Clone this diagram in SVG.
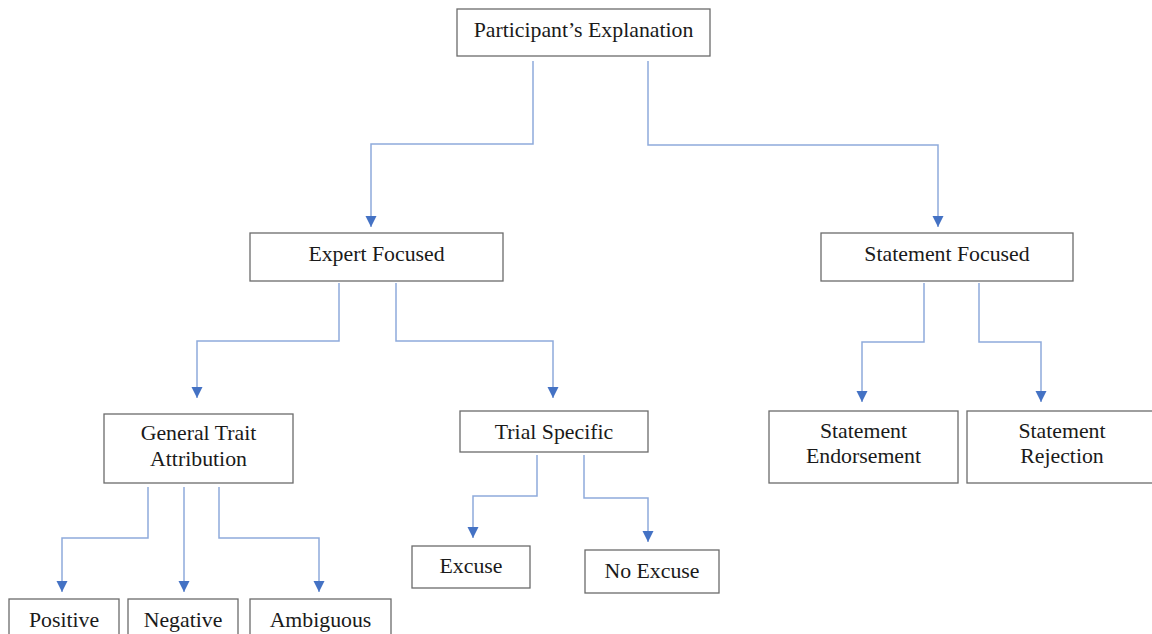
<svg xmlns="http://www.w3.org/2000/svg" width="1152" height="634" viewBox="0 0 1152 634">
<style>
.box{fill:#fff;stroke:#6b6b6b;stroke-width:1.3}
.t{font-family:"Liberation Serif","Times New Roman",serif;font-size:21.8px;fill:#1a1a1a;text-anchor:middle}
.c{fill:none;stroke:#8eaadb;stroke-width:1.5}
</style>
<defs>
<marker id="ah" markerUnits="userSpaceOnUse" markerWidth="12" markerHeight="12" viewBox="0 0 12 12" refX="11" refY="6" orient="auto">
<path d="M0,0.5 L11,6 L0,11.5 Z" fill="#4472c4"/>
</marker>
</defs>
<rect width="1152" height="634" fill="#fff"/>
<g id="connectors">
<path class="c" d="M533,61 V144 H371 V227" marker-end="url(#ah)"/>
<path class="c" d="M648,61 V145 H938 V227" marker-end="url(#ah)"/>
<path class="c" d="M339,283 V341 H197 V398" marker-end="url(#ah)"/>
<path class="c" d="M396,283 V341 H553 V398" marker-end="url(#ah)"/>
<path class="c" d="M924,283 V342 H862 V402" marker-end="url(#ah)"/>
<path class="c" d="M979,283 V342 H1041 V402" marker-end="url(#ah)"/>
<path class="c" d="M148,487 V538 H62 V592" marker-end="url(#ah)"/>
<path class="c" d="M184,487 V592" marker-end="url(#ah)"/>
<path class="c" d="M219,487 V538 H319 V592" marker-end="url(#ah)"/>
<path class="c" d="M537,455 V496 H473 V538" marker-end="url(#ah)"/>
<path class="c" d="M584,455 V498 H648 V542" marker-end="url(#ah)"/>
</g>
<g id="participant">
<rect class="box" x="457" y="9" width="253" height="47"/>
<text class="t" x="583.5" y="37">Participant’s Explanation</text>
</g>
<g id="expert">
<rect class="box" x="250" y="233" width="253" height="48"/>
<text class="t" x="376.5" y="261">Expert Focused</text>
</g>
<g id="statement">
<rect class="box" x="821" y="233" width="252" height="48"/>
<text class="t" x="947" y="261">Statement Focused</text>
</g>
<g id="general">
<rect class="box" x="104" y="414" width="189" height="69"/>
<text class="t" x="198.5" y="440">General Trait</text>
<text class="t" x="198.5" y="466">Attribution</text>
</g>
<g id="trial">
<rect class="box" x="460" y="411" width="188" height="41"/>
<text class="t" x="554" y="439">Trial Specific</text>
</g>
<g id="endorsement">
<rect class="box" x="769" y="411" width="189" height="72"/>
<text class="t" x="863.5" y="438">Statement</text>
<text class="t" x="863.5" y="463">Endorsement</text>
</g>
<g id="rejection">
<rect class="box" x="967" y="411" width="190" height="72"/>
<text class="t" x="1062" y="438">Statement</text>
<text class="t" x="1062" y="463">Rejection</text>
</g>
<g id="excuse">
<rect class="box" x="412" y="546" width="118" height="42"/>
<text class="t" x="471" y="573">Excuse</text>
</g>
<g id="noexcuse">
<rect class="box" x="585" y="550" width="134" height="43"/>
<text class="t" x="652" y="578">No Excuse</text>
</g>
<g id="positive">
<rect class="box" x="9" y="599" width="110" height="50"/>
<text class="t" x="64" y="627">Positive</text>
</g>
<g id="negative">
<rect class="box" x="128" y="599" width="110" height="50"/>
<text class="t" x="183" y="627">Negative</text>
</g>
<g id="ambiguous">
<rect class="box" x="250" y="599" width="141" height="50"/>
<text class="t" x="320.5" y="627">Ambiguous</text>
</g>
</svg>
